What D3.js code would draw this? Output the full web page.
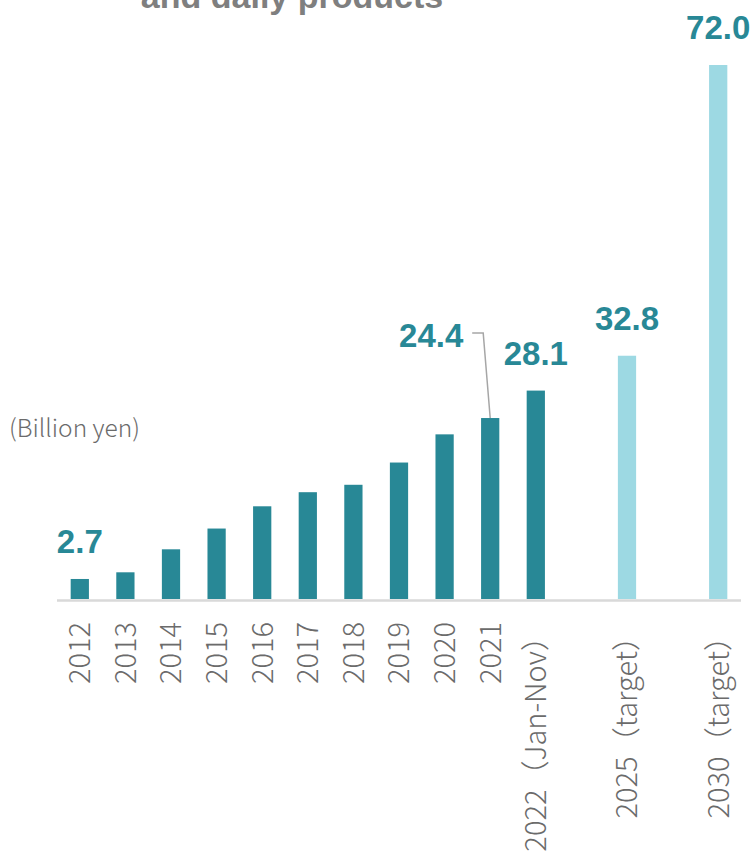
<!DOCTYPE html>
<html>
<head>
<meta charset="utf-8">
<script src="https://cdn.jsdelivr.net/npm/d3@7"></script>
<style>
  body { margin: 0; background: #fff; }
  svg { display: block; }
</style>
</head>
<body>
<script>
// valeurs (milliards de yens)
const years = ["2012", "2013", "2014", "2015", "2016", "2017", "2018", "2019", "2020", "2021", "2022", "2025", "2030"];
const tickLabels = ["2012", "2013", "2014", "2015", "2016", "2017", "2018", "2019", "2020", "2021",
  "2022（Jan-Nov）", "2025（target）", "2030（target）"];
const values = [2.7, 3.6, 6.7, 9.5, 12.5, 14.4, 15.4, 18.4, 22.2, 24.4, 28.1, 32.8, 72.0];
const isTarget = [false, false, false, false, false, false, false, false, false, false, false, true, true];
// position dans l'axe (trous avant 2025 et 2030)
const slots = [0, 1, 2, 3, 4, 5, 6, 7, 8, 9, 10, 12, 14];
const labelled = ["2012", "2021", "2022", "2025", "2030"];

const W = 753, H = 851;
const baseY = 599;

const svg = d3.select("body").append("svg")
  .attr("width", W)
  .attr("height", H);

// titre (coupé en haut, comme dans l'original)
svg.append("text")
  .attr("x", 292)
  .attr("y", 8)
  .attr("text-anchor", "middle")
  .style("font-family", "Liberation Sans, Arial, sans-serif")
  .style("font-weight", "bold")
  .style("font-size", "34px")
  .style("fill", "#7f7f7f")
  .text("and daily products");

const x = d3.scaleBand()
  .domain(d3.range(15))
  .range([57, 741])
  .paddingInner(0.6)
  .paddingOuter(0.3);

const y = d3.scaleLinear()
  .domain([0, 72])
  .range([baseY, 65]);

const data = years.map((yr, i) => ({
  year: yr, label: tickLabels[i], value: values[i], target: isTarget[i], slot: slots[i]
}));

// barres
svg.append("g")
  .selectAll("rect")
  .data(data)
  .join("rect")
  .attr("x", d => x(d.slot))
  .attr("y", d => y(d.value))
  .attr("width", x.bandwidth())
  .attr("height", d => y(0) - y(d.value))
  .attr("fill", d => d.target ? "#9dd9e3" : "#288896");

// ligne de base
svg.append("line")
  .attr("x1", 57).attr("x2", 741)
  .attr("y1", baseY + 1.5).attr("y2", baseY + 1.5)
  .attr("stroke", "#d9d9d9")
  .attr("stroke-width", 2.5);

// étiquettes de l'axe (verticales)
svg.append("g")
  .selectAll("text")
  .data(data)
  .join("text")
  .attr("transform", d => `translate(${x(d.slot) + x.bandwidth() / 2},${baseY + 23}) rotate(-90)`)
  .attr("dy", "0.36em")
  .attr("text-anchor", "end")
  .style("font-family", "'Noto Sans CJK JP', 'Noto Sans', sans-serif")
  .style("font-weight", 300)
  .style("font-size", "29px")
  .style("fill", "#6b6b6b")
  .text(d => d.label);

// unité
svg.append("text")
  .attr("x", 9)
  .attr("y", 437)
  .style("font-family", "'Noto Sans CJK JP', 'Noto Sans', sans-serif")
  .style("font-weight", 300)
  .style("font-size", "24.5px")
  .style("fill", "#6b6b6b")
  .text("(Billion yen)");

// valeurs
const lab = data.filter(d => labelled.includes(d.year));
const cx = d => x(d.slot) + x.bandwidth() / 2;

svg.append("g")
  .selectAll("text")
  .data(lab)
  .join("text")
  .attr("x", d => d.year === "2021" ? cx(d) - 59 : cx(d))
  .attr("y", d => d.year === "2021" ? y(d.value) - 71 : y(d.value) - 26)
  .attr("text-anchor", "middle")
  .style("font-family", "Liberation Sans, Arial, sans-serif")
  .style("font-weight", "bold")
  .style("font-size", "33px")
  .style("fill", "#288896")
  .text(d => d3.format(".1f")(d.value));

// trait de rappel pour 2021
const d21 = data.find(d => d.year === "2021");
svg.append("path")
  .attr("d", `M${cx(d21) - 18},${y(d21.value) - 85} H${cx(d21) - 7} L${cx(d21)},${y(d21.value)}`)
  .attr("fill", "none")
  .attr("stroke", "#a6a6a6")
  .attr("stroke-width", 1.5);
</script>
</body>
</html>
